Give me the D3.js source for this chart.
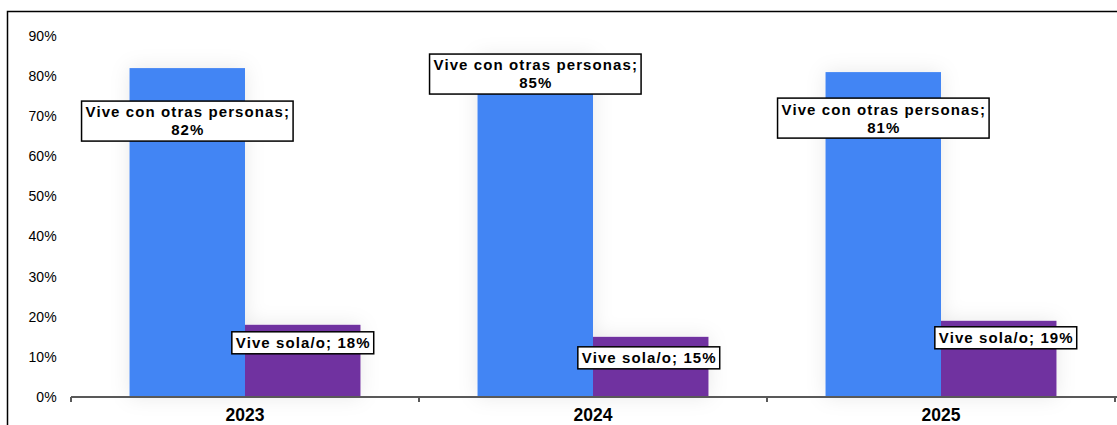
<!DOCTYPE html>
<html><head><meta charset="utf-8">
<script src="https://cdn.jsdelivr.net/npm/d3@7"></script>
<style>
body{margin:0;background:#fff;}
svg{display:block;font-family:"Liberation Sans",Arial,sans-serif;}
</style></head>
<body><svg id="c" width="1117" height="425"></svg>
<script>
const categories = ["2023","2024","2025"];
const seriesNames = ["Vive con otras personas","Vive sola/o"];
const conOtras = [82,85,81];
const sola = [18,15,19];
const yTicks = [0,10,20,30,40,50,60,70,80,90];

// label layout (pixel offsets from bar top), not data
const blueLabelShift = [53,18,46];
const purpleLabelShift = [18,21,17];
const purpleLabelDx = [0,-2,7];

const svg = d3.select("#c");
const y = d3.scaleLinear().domain([0,90]).range([397,36]);
const x = d3.scaleBand().domain(categories).range([71,1115]).paddingInner(0).paddingOuter(0);
const inner = d3.scaleBand().domain(seriesNames).range([0,x.bandwidth()]).paddingOuter(0.507).paddingInner(0);
const colors = {"Vive con otras personas":"#4285F4","Vive sola/o":"#7030A0"};

// outer frame
svg.append("path").attr("d","M7.5,425 V11.5 H1117").attr("fill","none").attr("stroke","#000").attr("stroke-width",1.5);

const defs = svg.append("defs");
const f = defs.append("filter").attr("id","glow").attr("x","-30%").attr("y","-30%").attr("width","160%").attr("height","160%");
f.append("feGaussianBlur").attr("in","SourceAlpha").attr("stdDeviation",10).attr("result","b");
f.append("feFlood").attr("flood-color","#000").attr("flood-opacity",0.09);
f.append("feComposite").attr("in2","b").attr("operator","in").attr("result","s");
const mg=f.append("feMerge"); mg.append("feMergeNode").attr("in","s"); mg.append("feMergeNode").attr("in","SourceGraphic");

// y labels
svg.append("g").selectAll("text").data(yTicks).join("text")
  .attr("x",57).attr("y",d=>y(d)).attr("dy","0.35em").attr("text-anchor","end")
  .attr("font-size",14).attr("letter-spacing",0.2).attr("fill","#000").text(d=>d+"%");

// bars
const data = categories.map((c,i)=>({c,vals:[{s:seriesNames[0],v:conOtras[i]},{s:seriesNames[1],v:sola[i]}]}));
const g = svg.append("g").selectAll("g").data(data).join("g").attr("transform",d=>`translate(${x(d.c)},0)`).attr("filter","url(#glow)");
g.selectAll("rect").data(d=>d.vals).join("rect")
  .attr("x",d=>inner(d.s)).attr("width",inner.bandwidth())
  .attr("y",d=>y(d.v)).attr("height",d=>y(0)-y(d.v))
  .attr("fill",d=>colors[d.s]);

// x axis
const xa = svg.append("g").attr("transform",`translate(0,${y(0)})`);
xa.append("line").attr("x1",71).attr("x2",1117).attr("stroke","#595959").attr("stroke-width",2);
const bounds = categories.map(c=>x(c)).concat([x.range()[1]]);
xa.selectAll("line.t").data(bounds).join("line").attr("class","t")
  .attr("x1",d=>d).attr("x2",d=>d).attr("y1",0).attr("y2",5).attr("stroke","#595959").attr("stroke-width",2);
xa.selectAll("text").data(categories).join("text")
  .attr("x",d=>x(d)+x.bandwidth()/2).attr("y",24).attr("text-anchor","middle")
  .attr("font-size",17.5).attr("font-weight","bold").attr("fill","#000").text(d=>d);

// labels
function label(cx,cy,lines){
  const gg = svg.append("g");
  const t = gg.append("text").attr("text-anchor","middle").attr("font-size",15).attr("letter-spacing",1.1).attr("font-weight","bold").attr("fill","#000");
  const lh=18;
  lines.forEach((l,k)=>t.append("tspan").attr("x",cx+0.55).attr("y",cy+(k-(lines.length-1)/2)*lh).attr("dy","0.36em").text(l));
  const bb=t.node().getBBox();
  gg.insert("rect","text").attr("x",bb.x-4).attr("y",cy-(lines.length*lh)/2-2).attr("width",bb.width+7).attr("height",lines.length*lh+4)
    .attr("fill","#fff").attr("stroke","#000").attr("stroke-width",1.5);
}
categories.forEach((c,i)=>{
  const bx = x(c)+inner(seriesNames[0])+inner.bandwidth()/2;
  label(bx, y(conOtras[i])+blueLabelShift[i], [seriesNames[0]+";", conOtras[i]+"%"]);
  const px = x(c)+inner(seriesNames[1])+inner.bandwidth()/2+purpleLabelDx[i];
  label(px, y(sola[i])+purpleLabelShift[i], [seriesNames[1]+"; "+sola[i]+"%"]);
});
</script></body></html>
